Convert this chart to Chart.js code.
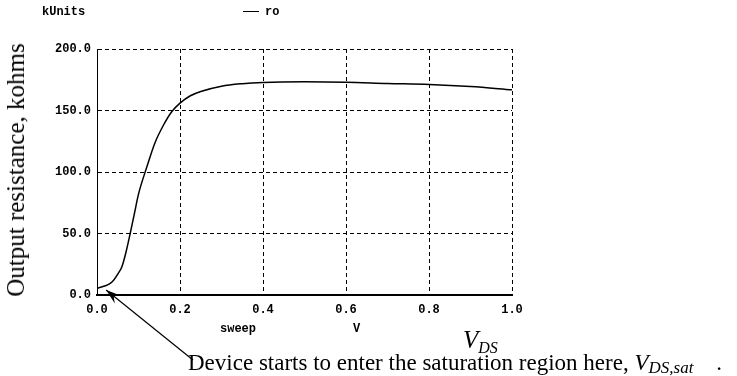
<!DOCTYPE html>
<html>
<head>
<meta charset="utf-8">
<script src="https://cdn.jsdelivr.net/npm/chart.js@4/dist/chart.umd.min.js"></script>
<style>
  html, body { margin:0; padding:0; background:#fff; }
  #wrap { position:relative; width:737px; height:376px; overflow:hidden; }
  canvas { position:absolute; left:0; top:0; }
  .t { position:absolute; white-space:nowrap; color:#000; }
  .mono { font-family:"Liberation Mono", monospace; font-weight:bold; font-size:12px; }
  .serif { font-family:"Liberation Serif", "Times New Roman", serif; }
</style>
</head>
<body>
<div id="wrap">
  <canvas id="c" width="737" height="376"></canvas>
  <div class="t mono" style="left:42px; top:5px;">kUnits</div>
  <div class="t mono" style="left:243px; top:5px;"><span style="display:inline-block;width:16px;border-top:1px solid #000;vertical-align:middle;margin-right:6px;"></span>ro</div>
  <div class="t serif" id="ytitle" style="font-size:25px; left:16px; top:170px; transform:translate(-50%,-50%) rotate(-90deg);">Output resistance, kohms</div>
  <div class="t mono" style="left:220px; top:322px;">sweep</div>
  <div class="t mono" style="left:353px; top:322px;">V</div>
  <div class="t serif" style="left:463px; top:326px; font-size:25px; font-style:italic;">V<sub style="font-size:16px; vertical-align:-5px;">DS</sub></div>
  <div class="t serif" style="left:188px; top:350px; font-size:23px; line-height:26px;">Device starts to enter the saturation region here, <i>V<sub style="font-size:17px; vertical-align:-3px; line-height:0;">DS,sat</sub></i>&nbsp;&nbsp;&nbsp; .</div>
</div>
<script>
const sweepV = [0, 0.02, 0.03, 0.04, 0.05, 0.06, 0.07, 0.08, 0.09, 0.1, 0.12, 0.14, 0.16, 0.18, 0.2, 0.225, 0.25, 0.3, 0.35, 0.4, 0.5, 0.6, 0.7, 0.8, 0.9, 1.0];
const roKohm = [5.4, 7.5, 9, 12, 17, 23, 35, 50, 66, 82, 104, 124, 138, 149, 156, 162, 165.5, 169.8, 171.8, 172.8, 173.3, 173, 172, 171.2, 169.5, 166.8];
const xTicks = [0, 0.2, 0.4, 0.6, 0.8, 1.0];
const yTicks = [0, 50, 100, 150, 200];

const arrowPlugin = {
  id: 'arrow',
  afterDraw(chart) {
    const ctx = chart.ctx;
    const xs = chart.scales.x, ys = chart.scales.y;
    const tipX = xs.getPixelForValue(0.022), tipY = ys.getPixelForValue(4);
    const tailX = 193, tailY = 360;
    ctx.save();
    ctx.strokeStyle = '#000';
    ctx.fillStyle = '#000';
    ctx.lineWidth = 1.2;
    ctx.beginPath();
    ctx.moveTo(tailX, tailY);
    ctx.lineTo(tipX, tipY);
    ctx.stroke();
    const ang = Math.atan2(tipY - tailY, tipX - tailX);
    const len = 16, w = 0.32;
    ctx.beginPath();
    ctx.moveTo(tipX, tipY);
    ctx.lineTo(tipX - len * Math.cos(ang - w), tipY - len * Math.sin(ang - w));
    ctx.lineTo(tipX - len * 0.6 * Math.cos(ang), tipY - len * 0.6 * Math.sin(ang));
    ctx.lineTo(tipX - len * Math.cos(ang + w), tipY - len * Math.sin(ang + w));
    ctx.closePath();
    ctx.fill();
    ctx.restore();
  }
};

const tickFont = { family: '"Liberation Mono", monospace', weight: 'bold', size: 12 };

new Chart(document.getElementById('c'), {
  type: 'line',
  data: {
    datasets: [{
      label: 'ro',
      data: sweepV.map((v, i) => ({ x: v, y: roKohm[i] })),
      borderColor: '#000',
      borderWidth: 1.5,
      pointRadius: 0,
      fill: false,
      cubicInterpolationMode: 'monotone'
    }]
  },
  options: {
    responsive: false,
    animation: false,
    devicePixelRatio: 1,
    layout: { padding: { left: 0, top: 49, right: 225, bottom: 0 } },
    plugins: { legend: { display: false }, tooltip: { enabled: false } },
    scales: {
      x: {
        type: 'linear', min: 0, max: 1,
        afterFit(s) { s.height = 81; },
        afterBuildTicks(s) { s.ticks = xTicks.map(v => ({ value: v })); },
        ticks: { font: tickFont, color: '#000', padding: 8, maxRotation: 0, callback: v => v.toFixed(1) },
        grid: { color: '#000', lineWidth: 1, drawTicks: false },
        border: { display: true, color: '#000', width: 2, dash: [4, 3] }
      },
      y: {
        type: 'linear', min: 0, max: 200,
        afterFit(s) { s.width = 97; },
        afterBuildTicks(s) { s.ticks = yTicks.map(v => ({ value: v })); },
        ticks: { font: tickFont, color: '#000', padding: 6, callback: v => v.toFixed(1) },
        grid: { color: '#000', lineWidth: 1, drawTicks: false },
        border: { display: true, color: '#000', width: 1, dash: [4, 3] }
      }
    }
  },
  plugins: [arrowPlugin]
});
</script>
</body>
</html>
